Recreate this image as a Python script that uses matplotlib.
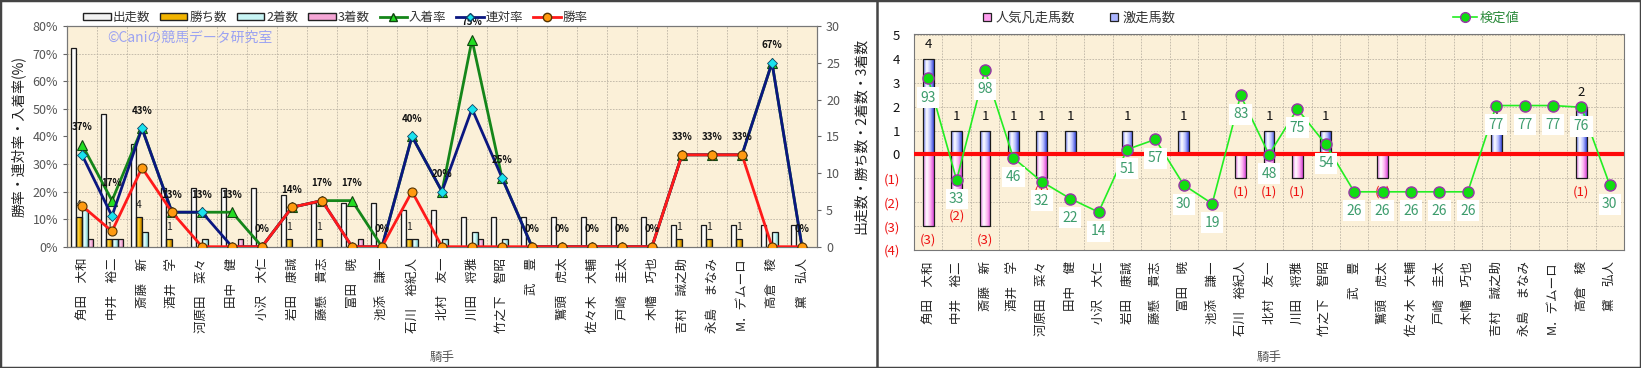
import numpy as np
import matplotlib
matplotlib.use("Agg")
import matplotlib.pyplot as plt
from matplotlib.colors import LinearSegmentedColormap
from matplotlib.patches import Patch, Rectangle
from matplotlib.lines import Line2D

plt.rcParams['font.family'] = ['Noto Sans CJK JP', 'DejaVu Sans']

# jockeys
names = ['角田　大和', '中井　裕二', '斎藤　新', '酒井　学', '河原田　菜々', '田中　健',
         '小沢　大仁', '岩田　康誠', '藤懸　貴志', '富田　暁', '池添　謙一', '石川　裕紀人',
         '北村　友一', '川田　将雅', '竹之下　智昭', '武　豊', '鷲頭　虎太', '佐々木　大輔',
         '戸崎　圭太', '木幡　巧也', '吉村　誠之助', '永島　まなみ', 'M．デムーロ', '高倉　稜',
         '黛　弘人']

# left chart: counts
runs = [27, 18, 14, 8, 8, 8, 8, 7, 6, 6, 6, 5, 5, 4, 4, 4, 4, 4, 4, 4, 3, 3, 3, 3, 3]
wins = [4, 1, 4, 1, 0, 0, 0, 1, 1, 0, 0, 1, 0, 0, 0, 0, 0, 0, 0, 0, 1, 1, 1, 0, 0]
second = [5, 1, 2, 0, 1, 0, 0, 0, 0, 0, 0, 1, 1, 2, 1, 0, 0, 0, 0, 0, 0, 0, 0, 2, 0]
third = [1, 1, 0, 0, 0, 1, 0, 0, 0, 1, 0, 0, 0, 1, 0, 0, 0, 0, 0, 0, 0, 0, 0, 0, 0]

# left chart: rates (%)
win_rate = [14.8, 5.6, 28.6, 12.5, 0, 0, 0, 14.3, 16.7, 0, 0, 20.0, 0, 0, 0,
            0, 0, 0, 0, 0, 33.3, 33.3, 33.3, 0, 0]
rentai_rate = [33.3, 11.1, 42.9, 12.5, 12.5, 0, 0, 14.3, 16.7, 0, 0, 40.0, 20.0, 50.0, 25.0,
               0, 0, 0, 0, 0, 33.3, 33.3, 33.3, 66.7, 0]
place_rate = [37.0, 16.7, 42.9, 12.5, 12.5, 12.5, 0, 14.3, 16.7, 16.7, 0, 40.0, 20.0, 75.0, 25.0,
              0, 0, 0, 0, 0, 33.3, 33.3, 33.3, 66.7, 0]

# right chart
gekisou = [4, 1, 1, 1, 1, 1, 0, 1, 0, 1, 0, 0, 1, 0, 1, 0, 0, 0, 0, 0, 1, 0, 0, 2, 0]
ninki_bonsou = [3, 2, 3, 0, 1, 0, 0, 0, 0, 0, 0, 1, 1, 1, 0, 0, 1, 0, 0, 0, 0, 0, 0, 1, 0]
kentei = [93, 33, 98, 46, 32, 22, 14, 51, 57, 30, 19, 83, 48, 75, 54,
          26, 26, 26, 26, 26, 77, 77, 77, 76, 30]

W, H = 1641, 368
BG = '#fbf0d8'
GRID = '#bdb5a5'


def grad_bars(ax, x, h, width, colors, bottom=0, z=2):
    # bar outline plus a horizontal gradient fill clipped to it
    cmap = LinearSegmentedColormap.from_list('g', colors)
    lws = [0.9 if v != 0 else 0 for v in h]
    bars = ax.bar(x, h, width, bottom=bottom, facecolor='none', edgecolor='#1a1a1a',
                  linewidth=lws, zorder=z + 0.1)
    for b in bars:
        if b.get_height() == 0:
            continue
        x0, y0, bw, bh = b.get_x(), b.get_y(), b.get_width(), b.get_height()
        im = ax.imshow(np.linspace(0, 1, 32).reshape(1, -1), cmap=cmap, aspect='auto',
                       extent=(x0, x0 + bw, y0, y0 + bh), zorder=z, interpolation='bilinear')
        im.set_clip_path(b)
    return bars


fig = plt.figure(figsize=(W / 100, H / 100), dpi=100, facecolor='white')
xs = np.arange(len(names))

# ---------------- left chart ----------------
ax = fig.add_axes([67 / W, 1 - 246.7 / H, 750 / W, 220.7 / H])
ax.set_facecolor(BG)
ax2 = ax.twinx()

bw = 0.19
grad_bars(ax, xs - 0.285, runs, bw, ['#c8c8c8', '#ffffff', '#ffffff', '#9a9a9a'])
grad_bars(ax, xs - 0.095, wins, bw, ['#b87800', '#ffd84a', '#f2b400', '#a86c00'])
grad_bars(ax, xs + 0.095, second, bw, ['#8ad2d2', '#eaffff', '#bdf3f3', '#78c4c4'])
grad_bars(ax, xs + 0.285, third, bw, ['#d070b0', '#ffd8f2', '#f5a6d6', '#c06096'])

for i, v in enumerate(wins):
    if v:
        ax.annotate(str(v), (xs[i] - 0.095, v), xytext=(0, 9), textcoords='offset points',
                    ha='center', va='center', fontsize=7.5, color='#222', zorder=5)

ax.set_xlim(-0.5, len(names) - 0.5)
ax.set_ylim(0, 30)
ax.set_yticks(np.arange(0, 31, 5))
ax.set_yticks(np.arange(0, 30.1, 3.75), minor=True)
ax.set_xticks(xs)
ax.set_xticks(np.arange(-0.5, len(names), 1), minor=True)
ax.set_xticklabels(names, rotation=90, fontsize=9, color='#222')
ax.tick_params(axis='x', which='both', length=0, pad=8)
ax.tick_params(axis='y', which='minor', length=0)
ax.tick_params(axis='y', which='major', labelsize=9, labelcolor='#555', color='#666', length=3)
ax.grid(which='minor', color=GRID, lw=0.6, ls=(0, (2, 1.5)))
ax.yaxis.tick_right()
ax.yaxis.set_label_position('right')
ax.set_ylabel('出走数・勝ち数・2着数・3着数', fontsize=10, color='#222')
ax.yaxis.set_label_coords(1.05, 0.5)
ax.set_xlabel('騎手', fontsize=9, color='#555')
ax.xaxis.set_label_coords(0.5, -104 / 220.7)
ax.set_axisbelow(True)

ax2.plot(xs, place_rate, color='#15861a', lw=2, marker='^', ms=7.5,
         mfc='#22dd22', mec='#114411', mew=0.8, zorder=3)
ax2.plot(xs, rentai_rate, color='#0b1780', lw=2, marker='D', ms=5,
         mfc='#19e3ee', mec='#114466', mew=0.6, zorder=4)
ax2.plot(xs, win_rate, color='#ff1a1a', lw=2, marker='o', ms=6.5,
         mfc='#ff9a10', mec='#553300', mew=0.8, zorder=5)
for i, v in enumerate(place_rate):
    ax2.annotate(f'{int(v + 0.5)}%', (xs[i], v), xytext=(0, 12.5), textcoords='offset points',
                 ha='center', va='center', fontsize=7, fontweight='bold', color='#111',
                 zorder=8, annotation_clip=False)
ax2.set_ylim(0, 80)
ax2.set_yticks(np.arange(0, 81, 10))
ax2.set_yticklabels([f'{t}%' for t in range(0, 81, 10)])
ax2.yaxis.tick_left()
ax2.yaxis.set_label_position('left')
ax2.tick_params(axis='y', labelsize=9, labelcolor='#555', color='#666', length=3)
ax2.set_ylabel('勝率・連対率・入着率(%)', fontsize=10, color='#222')
ax2.yaxis.set_label_coords(-0.055, 0.5)
for a in (ax, ax2):
    for s in a.spines.values():
        s.set_color('#777')

left_handles = [
    Patch(facecolor='#f2f2f2', edgecolor='#222'),
    Patch(facecolor='#f2b400', edgecolor='#222'),
    Patch(facecolor='#c8f5f5', edgecolor='#222'),
    Patch(facecolor='#f5a6d6', edgecolor='#222'),
    Line2D([], [], color='#15861a', lw=2, marker='^', ms=6, mfc='#22dd22', mec='#114411'),
    Line2D([], [], color='#0b1780', lw=2, marker='D', ms=4.5, mfc='#19e3ee', mec='#114466'),
    Line2D([], [], color='#ff1a1a', lw=2, marker='o', ms=6, mfc='#ff9a10', mec='#553300'),
]
left_labels = ['出走数', '勝ち数', '2着数', '3着数', '入着率', '連対率', '勝率']
fig.legend(left_handles, left_labels, loc='center left', bbox_to_anchor=(83 / W, 1 - 17 / H),
           ncol=7, frameon=False, fontsize=9, handlelength=2.2, handleheight=0.5,
           handletextpad=0.15, columnspacing=0.8, borderpad=0, borderaxespad=0,
           labelcolor='#333')
fig.text(107 / W, 1 - 38 / H, '©Caniの競馬データ研究室', fontsize=10, color='#9ba2f2',
         va='center', ha='left', zorder=10)

# ---------------- right chart ----------------
axr = fig.add_axes([914 / W, 1 - 250 / H, 710 / W, 216 / H])
axr.set_facecolor(BG)
rbw = 0.38
grad_bars(axr, xs, gekisou, rbw, ['#6a78f0', '#ffffff', '#b8c0ff', '#3a48d8'])
grad_bars(axr, xs, [-v for v in ninki_bonsou], rbw, ['#e070e0', '#ffffff', '#ffb8f2', '#d848d8'])
axr.axhline(0, color='#ff0a0a', lw=3, zorder=3)
for i, v in enumerate(gekisou):
    if v:
        axr.annotate(str(v), (xs[i], v), xytext=(0, 10), textcoords='offset points',
                     ha='center', va='center', fontsize=9.5, color='#111', zorder=4)
for i, v in enumerate(ninki_bonsou):
    if v:
        axr.annotate(f'({v})', (xs[i], -v), xytext=(0, -10), textcoords='offset points',
                     ha='center', va='center', fontsize=9.5, color='#ee1111', zorder=4)

axr.set_xlim(-0.5, len(names) - 0.5)
axr.set_ylim(-4, 5.04)
ytk = np.arange(-4, 6)
axr.set_yticks(ytk)
axr.set_yticklabels([f'({-t})' if t < 0 else str(t) for t in ytk])
for t, lab in zip(ytk, axr.get_yticklabels()):
    lab.set_color('#ee1111' if t < 0 else '#111')
axr.set_xticks(xs)
axr.set_xticks(np.arange(-0.5, len(names), 1), minor=True)
axr.set_xticklabels(names, rotation=90, fontsize=9, color='#222')
axr.tick_params(axis='x', which='both', length=0, pad=8)
axr.tick_params(axis='y', labelsize=9.5, length=0, pad=10)
axr.grid(which='minor', axis='x', color=GRID, lw=0.6, ls=(0, (2, 1.5)))
axr.grid(which='major', axis='y', color=GRID, lw=0.6, ls=(0, (2, 1.5)))
axr.set_axisbelow(True)
axr.set_xlabel('騎手', fontsize=9, color='#555')
axr.xaxis.set_label_coords(0.5, -101 / 216)
for s in axr.spines.values():
    s.set_color('#777')

axk = axr.twinx()
axk.set_ylim(-8.4, 119.3)
axk.set_yticks([])
for s in axk.spines.values():
    s.set_visible(False)
axk.plot(xs, kentei, color='#22ee22', lw=1.2, marker='o', ms=8,
         mfc='#11dd11', mec='#9933aa', mew=1, zorder=5)
for i, v in enumerate(kentei):
    axk.annotate(str(v), (xs[i], v), xytext=(0, -13.7), textcoords='offset points',
                 ha='center', va='center', fontsize=10, color='#3c9c6c', zorder=6,
                 bbox=dict(boxstyle='square,pad=0.25', fc='white', ec='none'))

sq = dict(ls='none', marker='s', ms=5.5, mec='#222', mew=0.9)
fig.legend([Line2D([], [], mfc='#ff9ef0', **sq), Line2D([], [], mfc='#aab4ff', **sq)],
           ['人気凡走馬数', '激走馬数'], loc='center left', bbox_to_anchor=(982 / W, 1 - 18 / H),
           ncol=2, frameon=False, fontsize=9.5, handlelength=0.8, handletextpad=0.2,
           columnspacing=2.6, borderpad=0, borderaxespad=0, labelcolor='#333')
fig.legend([Line2D([], [], color='#22ee22', lw=1.2, marker='o', ms=7, mfc='#11dd11', mec='#9933aa')],
           ['検定値'], loc='center left', bbox_to_anchor=(1453 / W, 1 - 18 / H),
           frameon=False, fontsize=9.5, handlelength=1.8, handletextpad=0.2,
           borderpad=0, borderaxespad=0, labelcolor='#2a8a3a')

# panel frames
fig.add_artist(Rectangle((0, 0), 1, 1, transform=fig.transFigure, fill=False,
                         edgecolor='#444', lw=2.5))
fig.add_artist(Line2D([877 / W, 877 / W], [0, 1], transform=fig.transFigure,
                      color='#444', lw=1.8))

fig.savefig('out.png', dpi=100, facecolor='white')
